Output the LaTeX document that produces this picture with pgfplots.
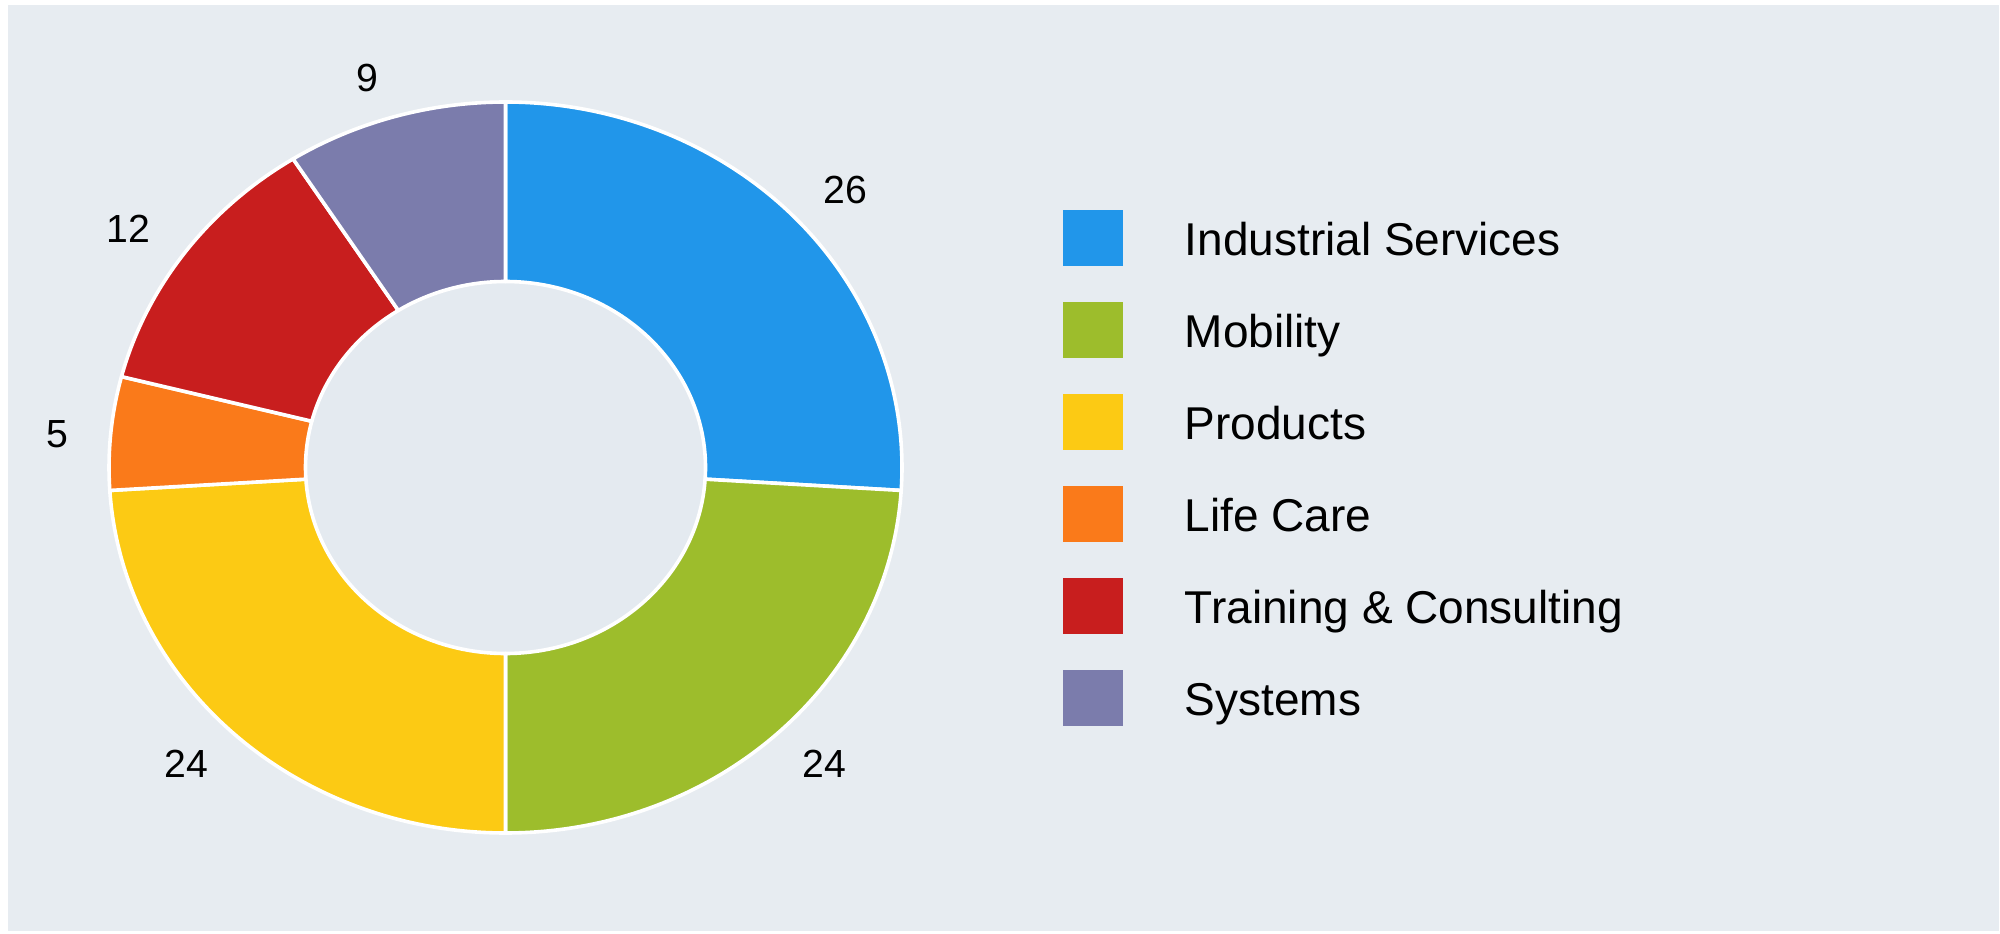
\documentclass[border=0pt]{standalone}
\usepackage{pgfplots}
\pgfplotsset{compat=1.18}
\usetikzlibrary{calc}
\usepackage{fontspec}
\setmainfont{Liberation Sans}

\definecolor{bgc}{HTML}{E7ECF1}
\definecolor{holec}{HTML}{E4EAF0}
\definecolor{cis}{HTML}{2196EA}
\definecolor{cmob}{HTML}{9DBD2C}
\definecolor{cprod}{HTML}{FCCA14}
\definecolor{clc}{HTML}{FA7A1A}
\definecolor{ctc}{HTML}{C81E1E}
\definecolor{csys}{HTML}{7B7CAC}

\newcommand\labfont{\fontsize{9.8}{11}\selectfont}
\newcommand\legfont{\fontsize{11.5}{14}\selectfont}

\begin{document}
\begin{tikzpicture}
\begin{axis}[
    scale only axis,
    width=500pt, height=233.25pt,
    xmin=0, xmax=2000, ymin=0, ymax=933,
    hide axis, clip=false,
]
% canvas: 1 axis unit = 0.25pt
\fill[white] (axis cs:0,0) rectangle (axis cs:2000,933);
\fill[bgc] (axis cs:8,2) rectangle (axis cs:1999,928);
\fill[holec] (axis cs:505.5,465.5) ellipse [x radius=50pt, y radius=46.5pt];

% value / colour / name / label nudge (pt)
\gdef\aa{90}
\foreach \v/\col/\name/\dx/\dy [count=\i] in {
    26/cis/Industrial Services/0/0,
    24/cmob/Mobility/0/0,
    24/cprod/Products/0/0,
    5/clc/Life Care/4/-1.2,
    12/ctc/{Training \& Consulting}/0/0,
    9/csys/Systems/-2/0}{
  \pgfmathsetmacro\ab{\aa-\v*3.6}
  \pgfmathsetmacro\am{(\aa+\ab)/2}
  \pgfmathsetmacro\yc{933-(238.5+(\i-1)*91.8)}
  \pgfmathsetmacro\ylo{\yc-28}
  \pgfmathsetmacro\yhi{\yc+28}
  \pgfmathsetmacro\yb{\yc-17.5}
  \edef\temp{%
    \noexpand\fill[fill=\col, draw=white, line width=0.9pt, line join=round]
      ($(axis cs:505.5,465.5)+(\aa:99.125pt and 91.375pt)$)
      arc[start angle=\aa, end angle=\ab, x radius=99.125pt, y radius=91.375pt]
      -- ($(axis cs:505.5,465.5)+(\ab:50pt and 46.5pt)$)
      arc[start angle=\ab, end angle=\aa, x radius=50pt, y radius=46.5pt]
      -- cycle;
    \noexpand\node[font=\noexpand\labfont, inner sep=0pt]
      at ($(axis cs:505.5,465.5)+(\am:116.5pt and 101.5pt)+(\dx pt,\dy pt)$) {\v};
    \noexpand\fill[\col] (axis cs:1063,\ylo) rectangle (axis cs:1123,\yhi);
    \noexpand\node[font=\noexpand\legfont, anchor=base west, inner sep=0pt]
      at (axis cs:1184,\yb) {\name};
  }
  \temp
  \xdef\aa{\ab}
}
\end{axis}
\end{tikzpicture}
\end{document}
